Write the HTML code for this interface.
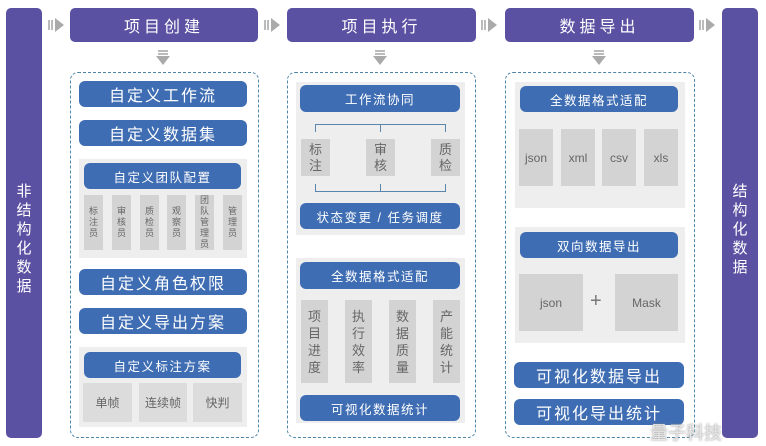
<!DOCTYPE html>
<html><head><meta charset="utf-8"><style>
*{margin:0;padding:0;box-sizing:border-box}
body{width:766px;height:446px;background:#fff;position:relative;overflow:hidden;font-family:"Liberation Sans","Noto Sans CJK SC",sans-serif}
div{position:absolute}
.pb{background:#5a51a2;border-radius:5px;color:#fff}
.hd{display:flex;align-items:center;justify-content:center;font-size:16px;letter-spacing:4px}
.vt{width:100%;text-align:center;font-size:15px;line-height:19px}
.dash{border:1.5px dashed #4f86a8;border-radius:8px}
.bt{background:#3f6db3;border-radius:6px;color:#fff;display:flex;align-items:center;justify-content:center;font-size:16px;letter-spacing:2px}
.bs{font-size:12.5px;letter-spacing:1.5px}
.gp{background:#eeeeee}
.gb{background:#d3d3d3;color:#666;display:flex;align-items:center;justify-content:center;text-align:center}
.v9{font-size:9px;line-height:11px;width:19px}
.v13{font-size:13px;line-height:16px}
.ar{width:0;height:0;border-top:7px solid transparent;border-bottom:7px solid transparent;border-left:9px solid #aaa}
.ln{background:#5a86ad}
</style></head><body>
<div class="pb" style="left:6px;top:8px;width:36px;height:430px"><div class="vt" style="top:174px">非<br>结<br>构<br>化<br>数<br>据</div></div>
<div class="pb" style="left:722px;top:8px;width:36px;height:430px"><div class="vt" style="top:174px">结<br>构<br>化<br>数<br>据</div></div>

<div class="pb hd" style="left:70px;top:8px;width:188px;height:34px">项目创建</div>
<div class="pb hd" style="left:287px;top:8px;width:189px;height:34px">项目执行</div>
<div class="pb hd" style="left:505px;top:8px;width:189px;height:34px">数据导出</div>

<div style="left:48px;top:20px;width:2px;height:10px;background:#bbb"></div><div style="left:51px;top:20px;width:2px;height:10px;background:#bbb"></div><div class="ar" style="left:55px;top:18px"></div>
<div style="left:264px;top:20px;width:2px;height:10px;background:#bbb"></div><div style="left:267px;top:20px;width:2px;height:10px;background:#bbb"></div><div class="ar" style="left:271px;top:18px"></div>
<div style="left:481px;top:20px;width:2px;height:10px;background:#bbb"></div><div style="left:484px;top:20px;width:2px;height:10px;background:#bbb"></div><div class="ar" style="left:488px;top:18px"></div>
<div style="left:699px;top:20px;width:2px;height:10px;background:#bbb"></div><div style="left:702px;top:20px;width:2px;height:10px;background:#bbb"></div><div class="ar" style="left:706px;top:18px"></div>
<div style="left:158px;top:50px;width:10px;height:2px;background:#bbb"></div><div style="left:158px;top:53px;width:10px;height:2px;background:#bbb"></div><div style="left:156px;top:56px;width:0;height:0;border-left:7px solid transparent;border-right:7px solid transparent;border-top:9px solid #aaa"></div>
<div style="left:375px;top:50px;width:10px;height:2px;background:#bbb"></div><div style="left:375px;top:53px;width:10px;height:2px;background:#bbb"></div><div style="left:373px;top:56px;width:0;height:0;border-left:7px solid transparent;border-right:7px solid transparent;border-top:9px solid #aaa"></div>
<div style="left:594px;top:50px;width:10px;height:2px;background:#bbb"></div><div style="left:594px;top:53px;width:10px;height:2px;background:#bbb"></div><div style="left:592px;top:56px;width:0;height:0;border-left:7px solid transparent;border-right:7px solid transparent;border-top:9px solid #aaa"></div>

<div class="dash" style="left:70px;top:72px;width:189px;height:366px"></div>
<div class="bt" style="left:79px;top:81px;width:168px;height:26px">自定义工作流</div>
<div class="bt" style="left:79px;top:120px;width:168px;height:26px">自定义数据集</div>
<div class="gp" style="left:79px;top:159px;width:168px;height:99px"></div>
<div class="bt bs" style="left:84px;top:163px;width:157px;height:26px">自定义团队配置</div>
<div class="gb v9" style="left:84px;top:195px;height:55px">标<br>注<br>员</div>
<div class="gb v9" style="left:112px;top:195px;height:55px">审<br>核<br>员</div>
<div class="gb v9" style="left:140px;top:195px;height:55px">质<br>检<br>员</div>
<div class="gb v9" style="left:167px;top:195px;height:55px">观<br>察<br>员</div>
<div class="gb v9" style="left:195px;top:195px;height:55px">团<br>队<br>管<br>理<br>员</div>
<div class="gb v9" style="left:223px;top:195px;height:55px">管<br>理<br>员</div>
<div class="bt" style="left:79px;top:269px;width:168px;height:26px">自定义角色权限</div>
<div class="bt" style="left:79px;top:308px;width:168px;height:26px">自定义导出方案</div>
<div class="gp" style="left:79px;top:347px;width:168px;height:80px"></div>
<div class="bt bs" style="left:84px;top:352px;width:157px;height:26px">自定义标注方案</div>
<div class="gb" style="left:83px;top:383px;width:49px;height:39px;font-size:12px;background:#dcdcdc">单帧</div>
<div class="gb" style="left:139px;top:383px;width:48px;height:39px;font-size:12px;background:#dcdcdc">连续帧</div>
<div class="gb" style="left:193px;top:383px;width:49px;height:39px;font-size:12px;background:#dcdcdc">快判</div>

<div class="dash" style="left:287px;top:72px;width:189px;height:366px"></div>
<div class="gp" style="left:296px;top:82px;width:169px;height:153px"></div>
<div class="bt bs" style="left:300px;top:85px;width:160px;height:27px">工作流协同</div>
<div class="ln" style="left:315px;top:124px;width:131px;height:1px"></div>
<div class="ln" style="left:315px;top:124px;width:1px;height:8px"></div>
<div class="ln" style="left:380px;top:124px;width:1px;height:8px"></div>
<div class="ln" style="left:445px;top:124px;width:1px;height:8px"></div>
<div class="ln" style="left:315px;top:191px;width:131px;height:1px"></div>
<div class="ln" style="left:315px;top:184px;width:1px;height:8px"></div>
<div class="ln" style="left:380px;top:184px;width:1px;height:8px"></div>
<div class="ln" style="left:445px;top:184px;width:1px;height:8px"></div>
<div class="gb v13" style="left:301px;top:139px;width:29px;height:37px">标<br>注</div>
<div class="gb v13" style="left:366px;top:139px;width:29px;height:37px">审<br>核</div>
<div class="gb v13" style="left:431px;top:139px;width:29px;height:37px">质<br>检</div>
<div class="bt bs" style="left:300px;top:203px;width:160px;height:26px">状态变更 / 任务调度</div>
<div class="gp" style="left:296px;top:258px;width:169px;height:165px"></div>
<div class="bt bs" style="left:300px;top:262px;width:160px;height:27px">全数据格式适配</div>
<div class="gb v13" style="left:301px;top:300px;width:27px;height:83px;line-height:17px">项<br>目<br>进<br>度</div>
<div class="gb v13" style="left:345px;top:300px;width:27px;height:83px;line-height:17px">执<br>行<br>效<br>率</div>
<div class="gb v13" style="left:389px;top:300px;width:27px;height:83px;line-height:17px">数<br>据<br>质<br>量</div>
<div class="gb v13" style="left:433px;top:300px;width:27px;height:83px;line-height:17px">产<br>能<br>统<br>计</div>
<div class="bt bs" style="left:300px;top:395px;width:160px;height:26px">可视化数据统计</div>

<div class="dash" style="left:505px;top:72px;width:190px;height:366px"></div>
<div class="gp" style="left:515px;top:82px;width:170px;height:126px"></div>
<div class="bt bs" style="left:520px;top:86px;width:158px;height:26px">全数据格式适配</div>
<div class="gb" style="left:519px;top:129px;width:34px;height:57px;font-size:12px">json</div>
<div class="gb" style="left:561px;top:129px;width:34px;height:57px;font-size:12px">xml</div>
<div class="gb" style="left:602px;top:129px;width:34px;height:57px;font-size:12px">csv</div>
<div class="gb" style="left:644px;top:129px;width:34px;height:57px;font-size:12px">xls</div>
<div class="gp" style="left:515px;top:227px;width:170px;height:116px"></div>
<div class="bt bs" style="left:520px;top:232px;width:158px;height:26px">双向数据导出</div>
<div class="gb" style="left:519px;top:274px;width:64px;height:57px;font-size:12px">json</div>
<div style="left:590px;top:290px;font-size:20px;color:#777">+</div>
<div class="gb" style="left:615px;top:274px;width:63px;height:57px;font-size:12px">Mask</div>
<div class="bt" style="left:514px;top:362px;width:170px;height:26px">可视化数据导出</div>
<div class="bt" style="left:514px;top:399px;width:170px;height:26px">可视化导出统计</div>
<div style="left:650px;top:419px;font-size:18px;color:#e6e6e6;text-shadow:0 0 2px #888">量子科技</div>
</body></html>
